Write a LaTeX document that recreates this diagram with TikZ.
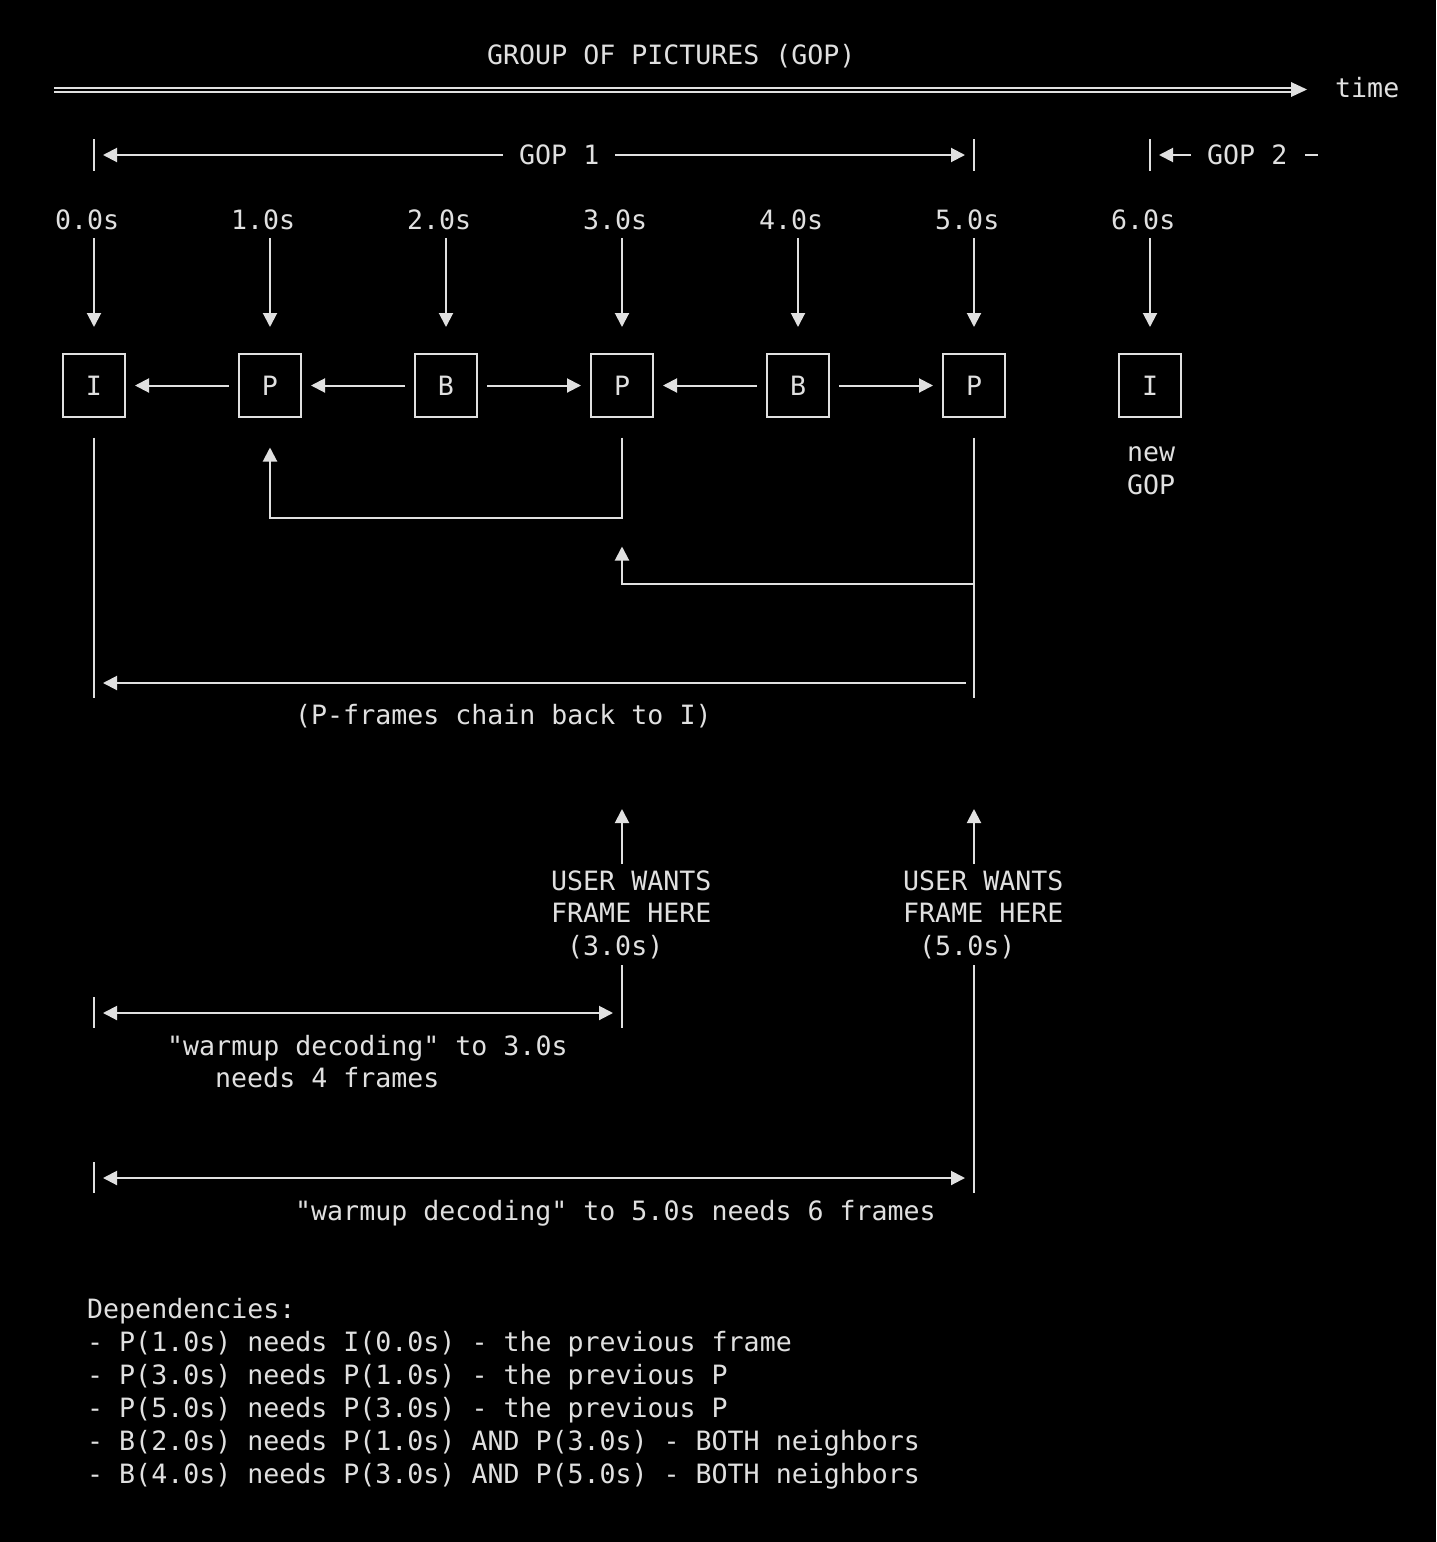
\documentclass[tikz,border=0pt]{standalone}
\usepackage{fontspec}
\usetikzlibrary{arrows.meta,calc}
\newfontfamily\gopmono{DejaVu Sans Mono}
\definecolor{fg}{HTML}{E0E0E0}
\begin{document}
\begin{tikzpicture}[x=1pt,y=-1pt,
  ln/.style={draw=fg, line width=2pt},
  arr/.style={ln, -{Triangle[length=14pt,width=14pt]}},
  darr/.style={ln, {Triangle[length=14pt,width=14pt]}-{Triangle[length=14pt,width=14pt]}},
  txt/.style={text=fg, font=\gopmono\fontsize{26.6pt}{33pt}\selectfont, inner sep=0pt, text height=19.4pt, text depth=0pt, anchor=west},
  framebox/.style={draw=fg, line width=2pt, minimum width=62pt, minimum height=63pt, text=fg, font=\gopmono\fontsize{26.6pt}{33pt}\selectfont, inner sep=0pt}]
\fill[black] (0,0) rectangle (1436,1542);
\useasboundingbox (0,0) rectangle (1436,1542);

% title and time axis
\node[txt] (title) at (487,55) {GROUP OF PICTURES (GOP)};
\coordinate (axL) at (54,89.5);
\coordinate (axR) at (1292,89.5);
\draw[fg, line width=2pt, double=black, double distance=2pt] (axL) -- (axR);
\fill[fg] (1291,82) -- (1307,89.5) -- (1291,97) -- cycle;
\node[txt] (time) at (1335,88) {time};

% GOP 1 / GOP 2 brackets
\draw[ln] (94,139) -- (94,171);
\draw[ln] (974,139) -- (974,171);
\draw[ln] (1150,139) -- (1150,171);
\node[txt] (gop1) at (519,155) {GOP 1};
\node[txt] (gop2) at (1207,155) {GOP 2};
\coordinate (gL) at (94,155);
\coordinate (gR) at (974,155);
\coordinate (g2L) at (1150,155);
\draw[arr, shorten <=16pt, shorten >=9pt] (gop1.west) -- (gL);
\draw[arr, shorten <=16pt, shorten >=9pt] (gop1.east) -- (gR);
\draw[arr, shorten <=16pt, shorten >=9pt] (gop2.west) -- (g2L);
\coordinate (g2d) at (1318,155);
\draw[ln, shorten <=18pt] (gop2.east) -- (g2d);

% time labels
\foreach \n/\lab/\xs in {t0/0.0s/55, t1/1.0s/231, t2/2.0s/407, t3/3.0s/583, t4/4.0s/759, t5/5.0s/935, t6/6.0s/1111}{
  \node[txt] (\n) at (\xs,220) {\lab};
}

% frames
\node[framebox] (I0) at (94,385.5) {I};
\node[framebox] (P1) at (270,385.5) {P};
\node[framebox] (B2) at (446,385.5) {B};
\node[framebox] (P3) at (622,385.5) {P};
\node[framebox] (B4) at (798,385.5) {B};
\node[framebox] (P5) at (974,385.5) {P};
\node[framebox] (I6) at (1150,385.5) {I};

% down arrows from labels
\foreach \t/\f in {t0/I0, t1/P1, t2/B2, t3/P3, t4/B4, t5/P5, t6/I6}{
  \draw[arr, shorten <=8pt, shorten >=26pt] (\t.south -| \f.north) -- (\f.north);
}

% horizontal dependencies
\draw[arr, shorten <=9pt, shorten >=9pt] (P1.west) -- (I0.east);
\draw[arr, shorten <=9pt, shorten >=9pt] (B2.west) -- (P1.east);
\draw[arr, shorten <=9pt, shorten >=9pt] (B2.east) -- (P3.west);
\draw[arr, shorten <=9pt, shorten >=9pt] (B4.west) -- (P3.east);
\draw[arr, shorten <=9pt, shorten >=9pt] (B4.east) -- (P5.west);

\node[txt] (newa) at (1127,452) {new};
\node[txt] (newb) at (1127,485) {GOP};

% P-frame chain
\coordinate (cI) at (94,698);
\coordinate (c5) at (974,698);
\draw[ln, shorten <=19.5pt] (I0.south) -- (cI);
\draw[ln, shorten <=19.5pt] (P5.south) -- (c5);
\coordinate (loop3) at (622,518);
\draw[arr, shorten <=19.5pt, shorten >=29.5pt] (P3.south) -- (loop3) -| (P1.south);
\coordinate (j5) at (974,584);
\draw[arr, shorten >=128.5pt] (j5) -| (P3.south);
\coordinate (chR) at (974,683);
\coordinate (chL) at (94,683);
\draw[arr, shorten <=8pt, shorten >=9pt] (chR) -- (chL);
\node[txt] (chain) at (295,715) {(P-frames chain back to I)};

% user wants
\node[txt] (u3a) at (551,881) {USER WANTS};
\node[txt] (u3b) at (551,913) {FRAME HERE};
\node[txt] (u3c) at (567,946) {(3.0s)};
\node[txt] (u5a) at (903,881) {USER WANTS};
\node[txt] (u5b) at (903,913) {FRAME HERE};
\node[txt] (u5c) at (919,946) {(5.0s)};
\coordinate (u3s) at (622,864);
\coordinate (u3t) at (622,809);
\coordinate (u5s) at (974,864);
\coordinate (u5t) at (974,809);
\draw[arr] (u3s) -- (u3t);
\draw[arr] (u5s) -- (u5t);
\coordinate (v3a) at (622,965);
\coordinate (v3b) at (622,1028);
\coordinate (v5a) at (974,965);
\coordinate (v5b) at (974,1193);
\draw[ln] (v3a) -- (v3b);
\draw[ln] (v5a) -- (v5b);

% warmup 1
\draw[ln] (94,997) -- (94,1028);
\coordinate (w1L) at (94,1013);
\coordinate (w1R) at (622,1013);
\draw[darr, shorten <=9pt, shorten >=9pt] (w1L) -- (w1R);
\node[txt] (w1a) at (167,1046) {"warmup decoding" to 3.0s};
\node[txt] (w1b) at (215,1078) {needs 4 frames};

% warmup 2
\draw[ln] (94,1162) -- (94,1193);
\coordinate (w2L) at (94,1178);
\coordinate (w2R) at (974,1178);
\draw[darr, shorten <=9pt, shorten >=9pt] (w2L) -- (w2R);
\node[txt] (w2a) at (295,1211) {"warmup decoding" to 5.0s needs 6 frames};

% dependencies
\node[txt] (d0) at (87,1309) {Dependencies:};
\node[txt] (d1) at (87,1342) {- P(1.0s) needs I(0.0s) - the previous frame};
\node[txt] (d2) at (87,1375) {- P(3.0s) needs P(1.0s) - the previous P};
\node[txt] (d3) at (87,1408) {- P(5.0s) needs P(3.0s) - the previous P};
\node[txt] (d4) at (87,1441) {- B(2.0s) needs P(1.0s) AND P(3.0s) - BOTH neighbors};
\node[txt] (d5) at (87,1474) {- B(4.0s) needs P(3.0s) AND P(5.0s) - BOTH neighbors};
\end{tikzpicture}
\end{document}
